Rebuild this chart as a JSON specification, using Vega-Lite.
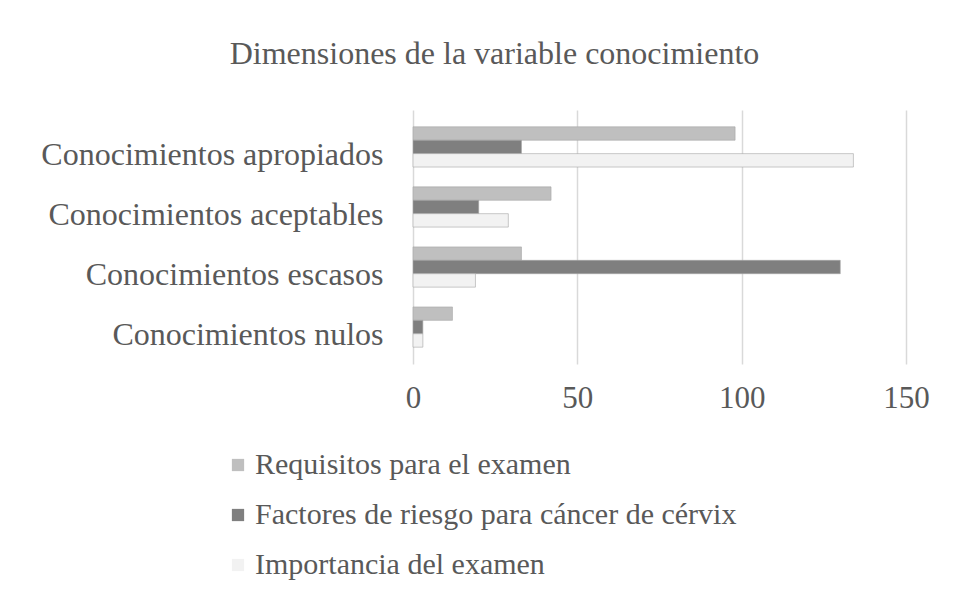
{
  "$schema": "https://vega.github.io/schema/vega-lite/v6.json",
  "width": 493,
  "height": 254,
  "autosize": "none",
  "padding": {"left": 413, "top": 110, "right": 62, "bottom": 231},
  "background": "white",
  "title": {
    "text": "Dimensiones de la variable conocimiento",
    "font": "Liberation Serif",
    "fontSize": 32,
    "fontWeight": "normal",
    "color": "#595959",
    "anchor": "middle",
    "dx": -165,
    "baseline": "alphabetic",
    "offset": 14
  },
  "data": {
    "values": [
      {"categoria": "Conocimientos apropiados", "serie": "Requisitos para el examen", "valor": 98},
      {"categoria": "Conocimientos apropiados", "serie": "Factores de riesgo para cáncer de cérvix", "valor": 33},
      {"categoria": "Conocimientos apropiados", "serie": "Importancia del examen", "valor": 134},
      {"categoria": "Conocimientos aceptables", "serie": "Requisitos para el examen", "valor": 42},
      {"categoria": "Conocimientos aceptables", "serie": "Factores de riesgo para cáncer de cérvix", "valor": 20},
      {"categoria": "Conocimientos aceptables", "serie": "Importancia del examen", "valor": 29},
      {"categoria": "Conocimientos escasos", "serie": "Requisitos para el examen", "valor": 33},
      {"categoria": "Conocimientos escasos", "serie": "Factores de riesgo para cáncer de cérvix", "valor": 130},
      {"categoria": "Conocimientos escasos", "serie": "Importancia del examen", "valor": 19},
      {"categoria": "Conocimientos nulos", "serie": "Requisitos para el examen", "valor": 12},
      {"categoria": "Conocimientos nulos", "serie": "Factores de riesgo para cáncer de cérvix", "valor": 3},
      {"categoria": "Conocimientos nulos", "serie": "Importancia del examen", "valor": 3}
    ]
  },
  "mark": {"type": "bar", "stroke": "#a6a6a6", "strokeWidth": 0.6},
  "encoding": {
    "y": {
      "field": "categoria",
      "type": "nominal",
      "sort": ["Conocimientos apropiados", "Conocimientos aceptables", "Conocimientos escasos", "Conocimientos nulos"],
      "scale": {"paddingInner": 0.33, "paddingOuter": 0.28},
      "axis": {
        "title": null,
        "domain": false,
        "ticks": false,
        "grid": false,
        "labelPadding": 30,
        "labelOffset": 8,
        "labelFont": "Liberation Serif",
        "labelFontSize": 32,
        "labelColor": "#595959",
        "labelLimit": 500
      }
    },
    "yOffset": {
      "field": "serie",
      "type": "nominal",
      "sort": ["Requisitos para el examen", "Factores de riesgo para cáncer de cérvix", "Importancia del examen"],
      "scale": {"paddingInner": 0, "paddingOuter": 0}
    },
    "x": {
      "field": "valor",
      "type": "quantitative",
      "scale": {"domain": [0, 150], "nice": false},
      "axis": {
        "title": null,
        "values": [0, 50, 100, 150],
        "domain": false,
        "ticks": false,
        "grid": true,
        "gridColor": "#d9d9d9",
        "gridWidth": 1.5,
        "labelPadding": 19,
        "labelFont": "Liberation Serif",
        "labelFontSize": 31,
        "labelColor": "#595959",
        "labelFlush": false
      }
    },
    "color": {
      "field": "serie",
      "type": "nominal",
      "sort": ["Requisitos para el examen", "Factores de riesgo para cáncer de cérvix", "Importancia del examen"],
      "scale": {
        "domain": ["Requisitos para el examen", "Factores de riesgo para cáncer de cérvix", "Importancia del examen"],
        "range": ["#bfbfbf", "#7f7f7f", "#f2f2f2"]
      },
      "legend": {
        "title": null,
        "orient": "none",
        "legendX": -190,
        "legendY": 340,
        "direction": "vertical",
        "symbolType": "square",
        "symbolSize": 150,
        "symbolStrokeWidth": 0,
        "labelFont": "Liberation Serif",
        "labelFontSize": 30,
        "labelColor": "#595959",
        "labelLimit": 600,
        "labelOffset": 2,
        "rowPadding": 20
      }
    }
  },
  "config": {
    "view": {"stroke": null}
  }
}
